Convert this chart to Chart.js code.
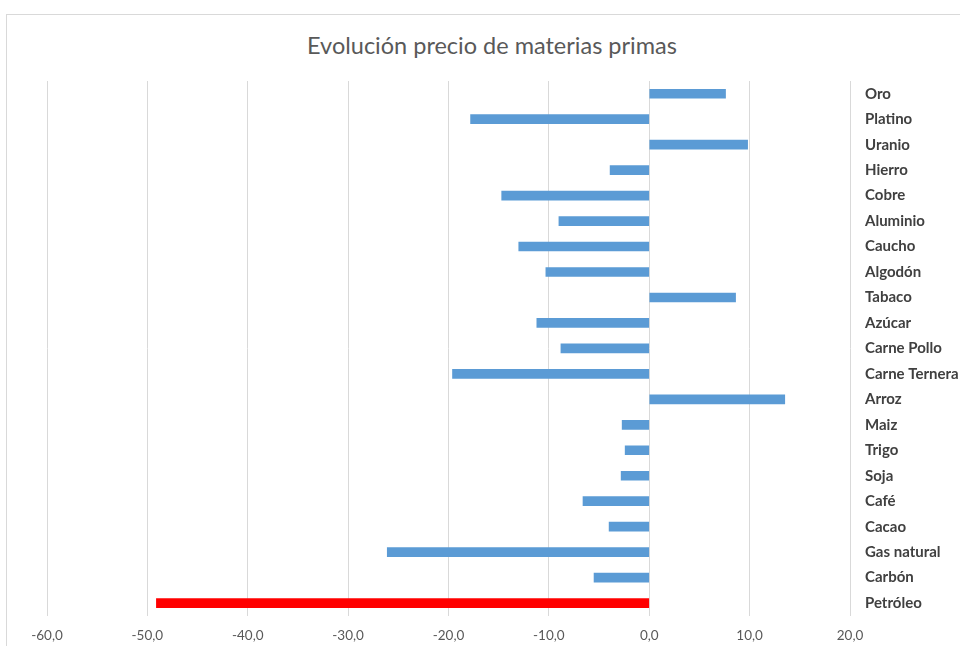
<!DOCTYPE html>
<html lang="es">
<head>
<meta charset="utf-8">
<title>Evolución precio de materias primas</title>
<script src="https://cdn.jsdelivr.net/npm/chart.js@4/dist/chart.umd.min.js"></script>
<style>
  html, body { margin: 0; padding: 0; background: #fff; overflow: hidden; }
  #marco { position: absolute; left: 6px; top: 14px; width: 1000px; height: 700px; border: 1px solid #d9d9d9; }
  #titulo { position: absolute; left: 0; top: 31px; width: 984px; line-height: 28px; text-align: center;
            font-family: Lato, sans-serif; font-size: 23.5px; color: #595959; }
  #wrap { position: absolute; left: 0; top: 0; width: 960px; height: 646px; }
</style>
</head>
<body>
<div id="marco"></div>
<div id="titulo">Evolución precio de materias primas</div>
<div id="wrap"><canvas id="grafico" width="960" height="646"></canvas></div>
<script>
// materias primas, de arriba a abajo
const materias = ['Oro', 'Platino', 'Uranio', 'Hierro', 'Cobre', 'Aluminio', 'Caucho', 'Algodón',
  'Tabaco', 'Azúcar', 'Carne Pollo', 'Carne Ternera', 'Arroz', 'Maiz', 'Trigo', 'Soja',
  'Café', 'Cacao', 'Gas natural', 'Carbón', 'Petróleo'];
// variación del precio (%)
const variacion = [7.6, -17.8, 9.8, -3.9, -14.7, -9.0, -13.0, -10.3,
  8.6, -11.2, -8.8, -19.6, 13.5, -2.7, -2.4, -2.8,
  -6.6, -4.0, -26.1, -5.5, -49.1];
const ejeMin = -60, ejeMax = 20, paso = 10;

const azul = '#5b9bd5', rojo = '#ff0000';
const colores = materias.map(m => m === 'Petróleo' ? rojo : azul);

new Chart(document.getElementById('grafico'), {
  type: 'bar',
  data: {
    labels: materias,
    datasets: [{
      data: variacion,
      backgroundColor: colores,
      borderWidth: 0,
      barThickness: 9
    }]
  },
  options: {
    indexAxis: 'y',
    responsive: false,
    animation: false,
    layout: { padding: { left: 47, right: 0, top: 81, bottom: -10 } },
    plugins: {
      legend: { display: false },
      tooltip: { enabled: false },
      title: { display: false }
    },
    scales: {
      x: {
        min: ejeMin, max: ejeMax,
        ticks: {
          stepSize: paso,
          color: '#595959',
          font: { family: 'Lato', size: 13.5 },
          padding: 12,
          maxRotation: 0,
          callback: v => v.toFixed(1).replace('.', ',').replace('-0,0', '0,0')
        },
        grid: { color: '#d9d9d9', drawTicks: false },
        border: { display: false }
      },
      y: {
        position: 'right',
        ticks: {
          color: '#404040',
          font: { family: 'Lato', size: 15, weight: 'bold' },
          padding: 15,
          autoSkip: false
        },
        grid: { display: false, drawTicks: false },
        border: { display: false },
        afterFit: s => { s.width = 110; }
      }
    }
  }
});
</script>
</body>
</html>
